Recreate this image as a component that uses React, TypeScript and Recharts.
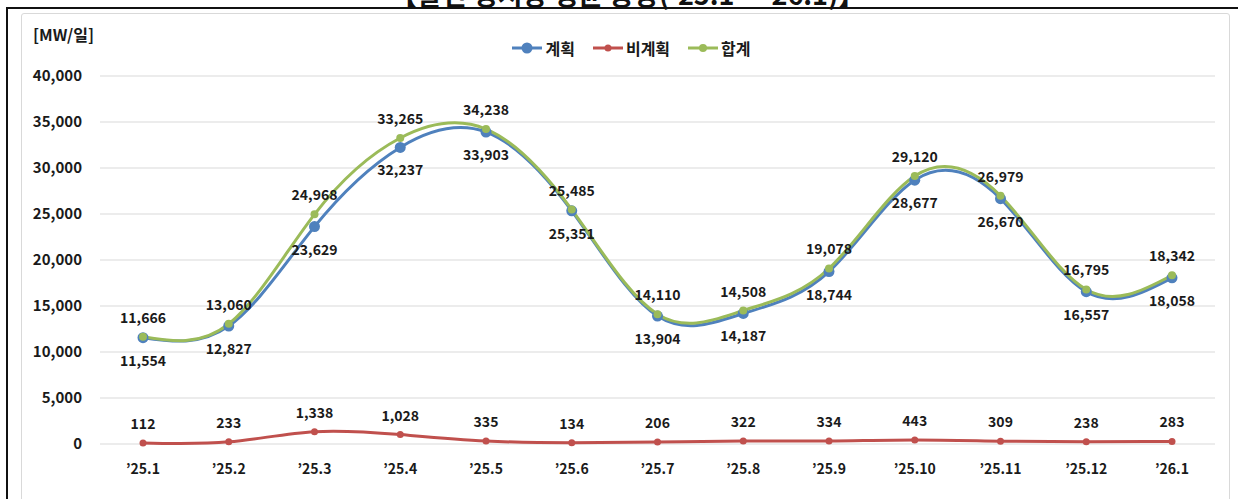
import { CartesianGrid, LabelList, Line, LineChart, XAxis, YAxis } from 'recharts'

const months = ['’25.1', '’25.2', '’25.3', '’25.4', '’25.5', '’25.6', '’25.7', '’25.8', '’25.9', '’25.10', '’25.11', '’25.12', '’26.1']
const planned = [11554, 12827, 23629, 32237, 33903, 25351, 13904, 14187, 18744, 28677, 26670, 16557, 18058]
const unplanned = [112, 233, 1338, 1028, 335, 134, 206, 322, 334, 443, 309, 238, 283]
const total = [11666, 13060, 24968, 33265, 34238, 25485, 14110, 14508, 19078, 29120, 26979, 16795, 18342]
const yTicks = [0, 5000, 10000, 15000, 20000, 25000, 30000, 35000, 40000]

const data = months.map((m, i) => ({
  month: m,
  planned: planned[i],
  unplanned: unplanned[i],
  total: total[i],
}))

const FONT = '"Noto Sans CJK KR", "Noto Sans", sans-serif'

const SERIES = [
  { key: 'planned', name: '계획', color: '#4F81BD', r: 5.5 },
  { key: 'unplanned', name: '비계획', color: '#C0504D', r: 3.5 },
  { key: 'total', name: '합계', color: '#9BBB59', r: 4 },
]

const fmt = (v: number) => v.toLocaleString('en-US')

// value label drawn dy px from the point
const makeLabel = (dy: number) => (props: any) => {
  const { x, y, value } = props
  return (
    <text
      x={x}
      y={y + dy}
      textAnchor="middle"
      dominantBaseline="central"
      fontFamily={FONT}
      fontWeight={700}
      fontSize={14}
      fill="#1a1a1a"
    >
      {fmt(value)}
    </text>
  )
}

function LegendBox() {
  return (
    <div
      style={{
        position: 'absolute',
        left: 0,
        top: 40,
        width: 1262,
        display: 'flex',
        justifyContent: 'center',
        gap: 17,
        fontFamily: FONT,
      }}
    >
      {SERIES.map((s) => (
        <div key={s.key} style={{ display: 'flex', alignItems: 'center' }}>
          <svg width={32} height={16}>
            <line x1={1} x2={31} y1={8} y2={8} stroke={s.color} strokeWidth={3} />
            <circle cx={16} cy={8} r={s.r} fill={s.color} />
          </svg>
          <span style={{ fontSize: 16, fontWeight: 700, color: '#1a1a1a', marginLeft: 2, lineHeight: '16px' }}>{s.name}</span>
        </div>
      ))}
    </div>
  )
}

export default function App() {
  return (
    <div style={{ position: 'absolute', left: 0, top: 0, width: 1238, height: 499, overflow: 'hidden', background: '#fff' }}>
      <div
        style={{
          position: 'absolute',
          left: 390,
          top: -20,
          fontFamily: FONT,
          fontWeight: 700,
          fontSize: 27,
          lineHeight: '27px',
          color: '#111',
          whiteSpace: 'nowrap',
        }}
      >
        【발전 정지량 평균 용량('25.1 ~ '26.1)】
      </div>
      <div style={{ position: 'absolute', left: 6, top: 7, width: 1300, height: 600, borderTop: '2px solid #111', borderLeft: '2px solid #111' }} />
      <div style={{ position: 'absolute', left: 21, top: 13, width: 1207, height: 600, border: '1px solid #d9d9d9', borderRadius: 3 }} />
      <div
        style={{
          position: 'absolute',
          left: 33,
          top: 22,
          fontFamily: FONT,
          fontWeight: 700,
          fontSize: 16,
          color: '#1a1a1a',
        }}
      >
        [MW/일]
      </div>
      <LegendBox />
      <div style={{ position: 'absolute', left: 0, top: 0 }}>
        <LineChart width={1238} height={499} data={data} margin={{ top: 76, right: 23, bottom: 25, left: 0 }}>
          <CartesianGrid vertical={false} stroke="#d9d9d9" />
          <XAxis
            dataKey="month"
            axisLine={false}
            tickLine={false}
            tickSize={0}
            tickMargin={20}
            height={30}
            padding={{ left: 43, right: 43 }}
            tick={{ fill: '#1a1a1a', fontSize: 14, fontWeight: 700, fontFamily: FONT }}
            interval={0}
          />
          <YAxis
            width={100}
            domain={[0, 40000]}
            ticks={yTicks}
            axisLine={false}
            tickLine={false}
            tickSize={0}
            tickMargin={18}
            tickFormatter={fmt}
            tick={{ fill: '#1a1a1a', fontSize: 15, fontWeight: 700, fontFamily: FONT }}
          />
          <Line
            dataKey="planned"
            name="계획"
            type="natural"
            stroke="#4F81BD"
            strokeWidth={3}
            dot={{ r: 5.5, fill: '#4F81BD', stroke: 'none' }}
            activeDot={false}
            isAnimationActive={false}
          >
            <LabelList dataKey="planned" content={makeLabel(22)} />
          </Line>
          <Line
            dataKey="unplanned"
            name="비계획"
            type="natural"
            stroke="#C0504D"
            strokeWidth={3}
            dot={{ r: 3.5, fill: '#C0504D', stroke: 'none' }}
            activeDot={false}
            isAnimationActive={false}
          >
            <LabelList dataKey="unplanned" content={makeLabel(-20)} />
          </Line>
          <Line
            dataKey="total"
            name="합계"
            type="natural"
            stroke="#9BBB59"
            strokeWidth={3}
            dot={{ r: 4, fill: '#9BBB59', stroke: 'none' }}
            activeDot={false}
            isAnimationActive={false}
          >
            <LabelList dataKey="total" content={makeLabel(-20)} />
          </Line>
        </LineChart>
      </div>
    </div>
  )
}
